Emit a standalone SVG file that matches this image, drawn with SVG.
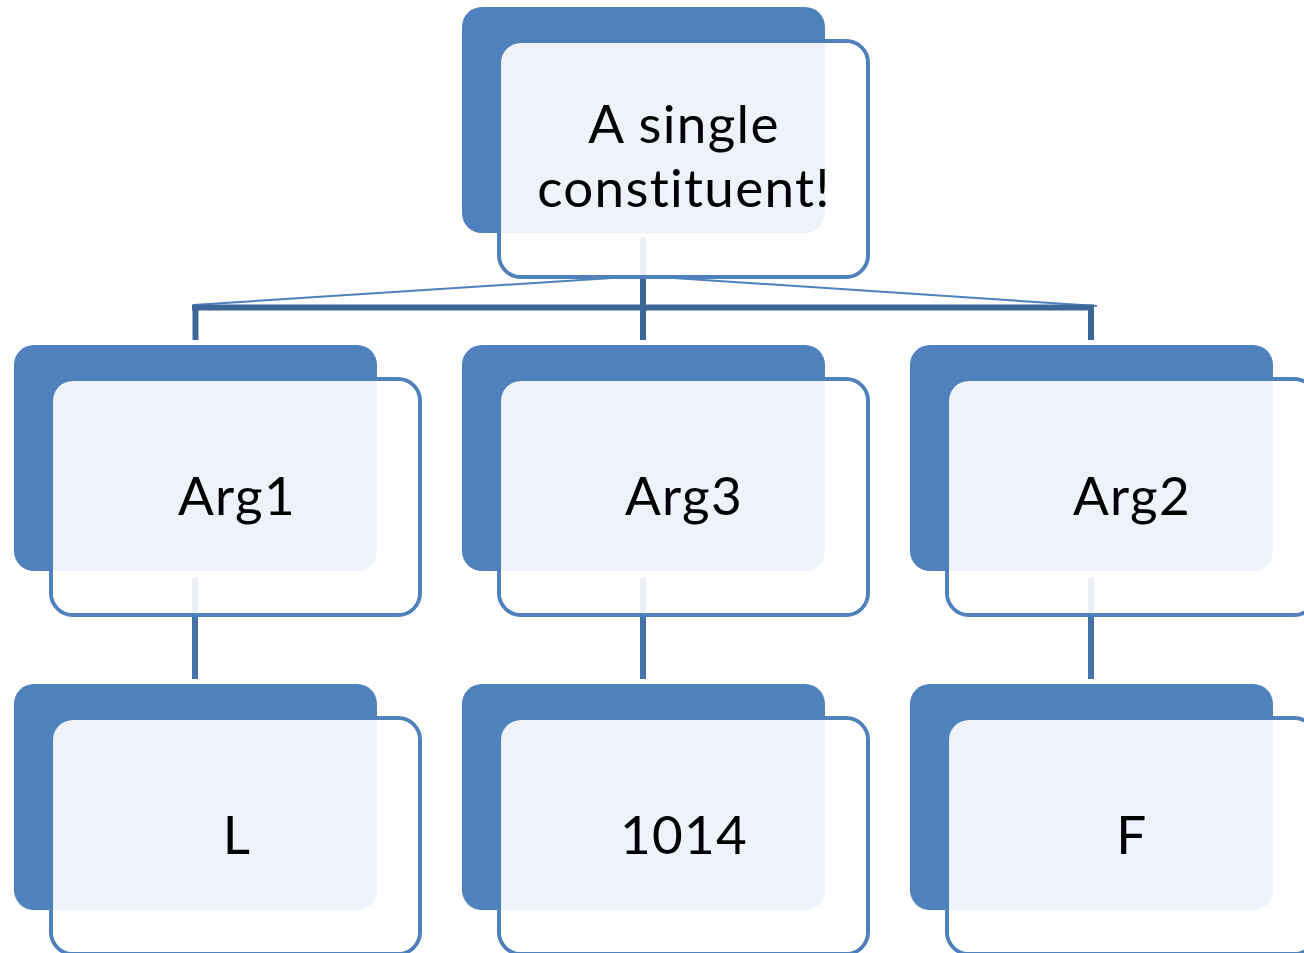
<svg xmlns="http://www.w3.org/2000/svg" width="1304" height="953" viewBox="0 0 1304 953">
<style>
.outline{fill:none;stroke:#4F81BD;stroke-width:4}
.back{fill:#4F81BD}
.veil{fill:#FFFFFF;fill-opacity:0.9}
.lbl{font-family:Lato,"Open Sans",sans-serif;font-size:53px;fill:#000;text-anchor:middle;font-variant-ligatures:none;font-feature-settings:"liga" 0,"clig" 0;letter-spacing:1.3px}
.bar{stroke:#3E6799;stroke-width:6;fill:none}
.thin{stroke:#4F81BD;stroke-width:2;fill:none}
.stem{stroke:#4672AA;stroke-width:6;fill:none}
</style>
<defs>
<g id="card">
<rect class="outline" x="37" y="34" width="369" height="236" rx="22"/>
<rect class="back" x="0" y="0" width="363" height="226" rx="20"/>
<rect class="veil" x="39" y="36" width="365" height="232" rx="20"/>
</g>
</defs>
<rect width="1304" height="953" fill="#FFFFFF"/>
<g id="connectors">
<line class="thin" x1="643" y1="276" x2="193" y2="305"/>
<line class="thin" x1="643" y1="276" x2="1097" y2="306"/>
<line class="bar" x1="192" y1="307.5" x2="1094" y2="307.5"/>
<line class="bar" x1="643" y1="237" x2="643" y2="340"/>
<line class="bar" x1="195.5" y1="305" x2="195.5" y2="340"/>
<line class="bar" x1="1091" y1="305" x2="1091" y2="340"/>
<line class="stem" x1="195" y1="578" x2="195" y2="679"/>
<line class="stem" x1="643" y1="578" x2="643" y2="679"/>
<line class="stem" x1="1091" y1="578" x2="1091" y2="679"/>
</g>
<g id="root">
<use href="#card" x="462" y="7"/>
<text class="lbl"><tspan x="684" y="143">A single</tspan><tspan x="684" y="207">constituent!</tspan></text>
</g>
<g id="arg1">
<use href="#card" x="14" y="345"/>
<text class="lbl" x="237" y="515">Arg1</text>
</g>
<g id="arg3">
<use href="#card" x="462" y="345"/>
<text class="lbl" x="684" y="515">Arg3</text>
</g>
<g id="arg2">
<use href="#card" x="910" y="345"/>
<text class="lbl" x="1132" y="515">Arg2</text>
</g>
<g id="val-l">
<use href="#card" x="14" y="684"/>
<text class="lbl" x="237" y="854">L</text>
</g>
<g id="val-1014">
<use href="#card" x="462" y="684"/>
<text class="lbl" x="684" y="854">1014</text>
</g>
<g id="val-f">
<use href="#card" x="910" y="684"/>
<text class="lbl" x="1132" y="854">F</text>
</g>
</svg>
